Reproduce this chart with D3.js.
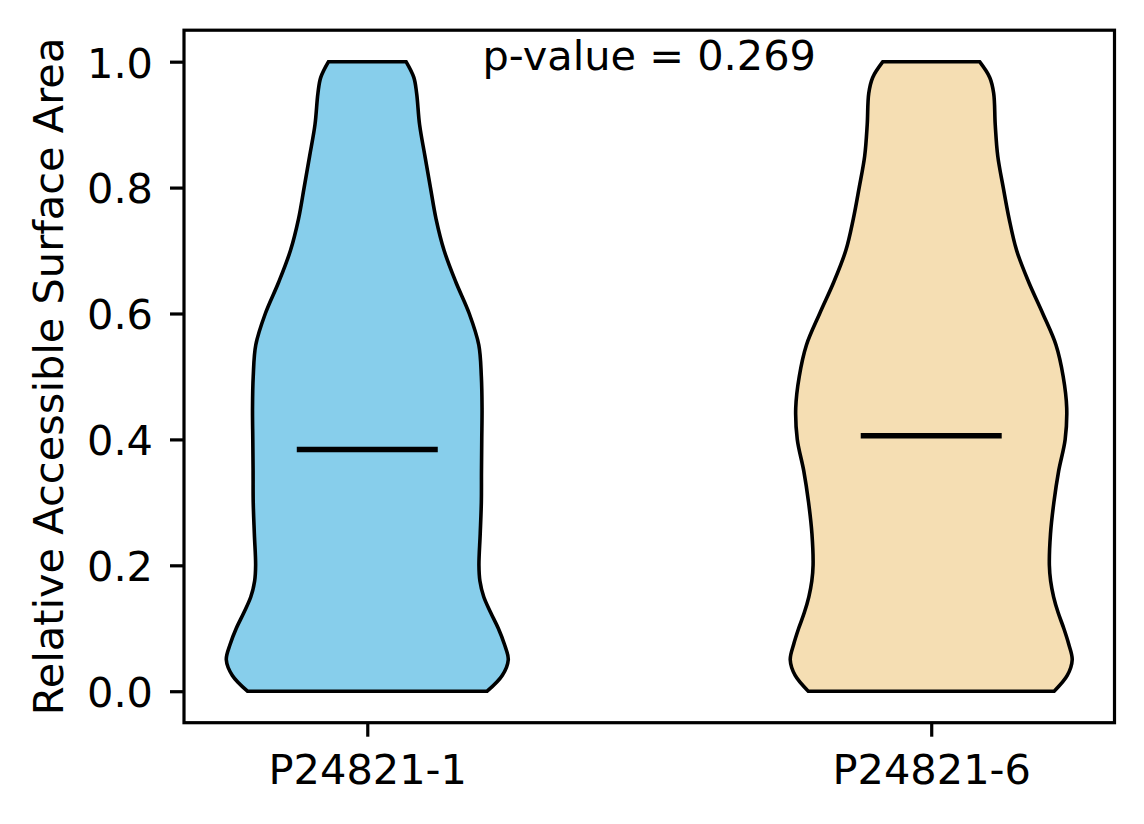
<!DOCTYPE html>
<html>
<head>
<meta charset="utf-8">
<script src="https://cdn.jsdelivr.net/npm/d3@7"></script>
<style>
  html, body { margin: 0; padding: 0; background: #fff; }
  svg { display: block; }
  text { font-family: "DejaVu Sans", sans-serif; fill: #000; }
</style>
</head>
<body>
<svg id="chart" width="1144" height="824"></svg>
<script>
// ---- data ----
const categories = ["P24821-1", "P24821-6"];
const colors = ["#87CEEB", "#F5DEB3"];
const levels = [0, 0.025, 0.05, 0.075, 0.1, 0.125, 0.15, 0.175, 0.2, 0.25, 0.3, 0.35,
                0.4, 0.45, 0.5, 0.55, 0.6, 0.65, 0.7, 0.75, 0.8, 0.85, 0.9, 0.95, 0.975, 1.0];
const density1 = [0.850, 0.957, 1.000, 0.972, 0.929, 0.875, 0.826, 0.799, 0.792, 0.801, 0.809, 0.810,
                  0.812, 0.814, 0.809, 0.791, 0.723, 0.628, 0.545, 0.488, 0.448, 0.409, 0.371, 0.350, 0.330, 0.275];
const density2 = [0.872, 0.965, 1.000, 0.975, 0.940, 0.900, 0.868, 0.847, 0.838, 0.846, 0.870, 0.904,
                  0.950, 0.961, 0.936, 0.885, 0.791, 0.691, 0.606, 0.553, 0.511, 0.472, 0.454, 0.443, 0.415, 0.343];
const medians = [0.384, 0.406];
const yTicks = [0.0, 0.2, 0.4, 0.6, 0.8, 1.0];
const pValueText = "p-value = 0.269";
const yLabel = "Relative Accessible Surface Area";

const densities = [density1, density2];

// ---- layout ----
const svg = d3.select("#chart");
const plotLeft = 184, plotRight = 1114.5, plotTop = 30.2, plotBottom = 722.7;
const x = d3.scaleLinear().domain([0.675, 2.325]).range([plotLeft, plotRight]);
const y = d3.scaleLinear().domain([-0.05, 1.05]).range([plotBottom, plotTop]);
const halfWidth = 0.25; // violin max half-width in x units
const fontSize = 41.5;

// violins
densities.forEach((dens, i) => {
  const pos = i + 1;
  const pts = levels.map((v, j) => ({ v, d: dens[j] }));
  const area = d3.area()
    .y(p => y(p.v))
    .x0(p => x(pos - p.d * halfWidth))
    .x1(p => x(pos + p.d * halfWidth))
    .curve(d3.curveCatmullRom.alpha(0.5));
  svg.append("path")
    .attr("d", area(pts))
    .attr("fill", colors[i])
    .attr("stroke", "#000")
    .attr("stroke-width", 3.6)
    .attr("stroke-linejoin", "miter");
  // median line
  svg.append("line")
    .attr("x1", x(pos - 0.125)).attr("x2", x(pos + 0.125))
    .attr("y1", y(medians[i])).attr("y2", y(medians[i]))
    .attr("stroke", "#000").attr("stroke-width", 5.5);
});

// axes frame
svg.append("rect")
  .attr("x", plotLeft).attr("y", plotTop)
  .attr("width", plotRight - plotLeft).attr("height", plotBottom - plotTop)
  .attr("fill", "none").attr("stroke", "#000").attr("stroke-width", 3.2);

// y axis
const yAxis = d3.axisLeft(y).tickValues(yTicks).tickFormat(d3.format(".1f")).tickSize(14).tickPadding(17);
const gy = svg.append("g").attr("transform", `translate(${plotLeft},0)`).call(yAxis);
gy.select(".domain").remove();
gy.selectAll(".tick line").attr("stroke", "#000").attr("stroke-width", 3.2);
gy.selectAll(".tick text")
  .attr("font-size", fontSize).attr("font-family", "DejaVu Sans")
  .attr("dy", "0.37em").attr("fill", "#000");

// x axis
const xAxis = d3.axisBottom(x).tickValues([1, 2]).tickFormat(d => categories[d - 1]).tickSize(14).tickPadding(14);
const gx = svg.append("g").attr("transform", `translate(0,${plotBottom})`).call(xAxis);
gx.select(".domain").remove();
gx.selectAll(".tick line").attr("stroke", "#000").attr("stroke-width", 3.2);
gx.selectAll(".tick text")
  .attr("font-size", fontSize).attr("font-family", "DejaVu Sans")
  .attr("dy", null).attr("y", 784 - plotBottom).attr("fill", "#000");

// y label
svg.append("text")
  .attr("transform", `translate(63,${(plotTop + plotBottom) / 2}) rotate(-90)`)
  .attr("text-anchor", "middle")
  .attr("font-size", fontSize)
  .text(yLabel);

// p-value text
svg.append("text")
  .attr("x", (plotLeft + plotRight) / 2)
  .attr("y", 70)
  .attr("text-anchor", "middle")
  .attr("font-size", fontSize)
  .text(pValueText);
</script>
</body>
</html>
